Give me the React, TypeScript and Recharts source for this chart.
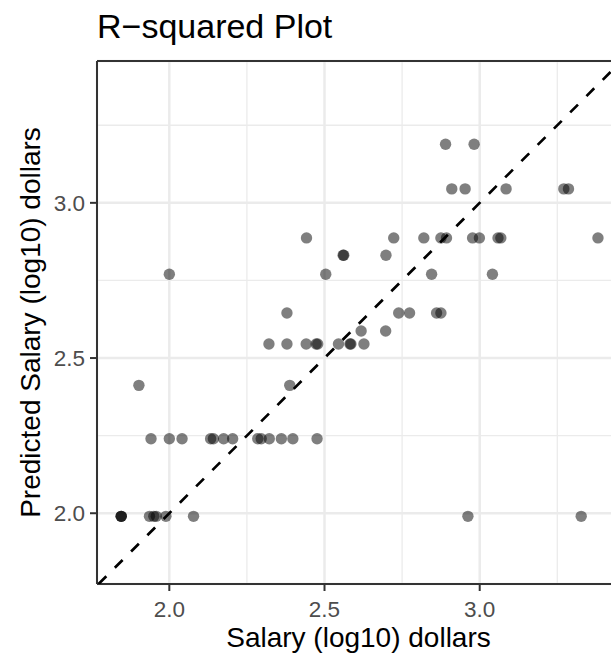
import { ScatterChart, Scatter, XAxis, YAxis, CartesianGrid, ReferenceLine } from "recharts";

const actualSalary = [
  2.89, 2.982,
  2.91, 2.953, 3.085, 3.271, 3.286,
  2.442, 2.723, 2.82, 2.875, 2.893, 2.977, 2.999, 3.059, 3.068, 3.381,
  2.56, 2.562, 2.698,
  2.0, 2.504, 2.845, 3.041,
  2.379, 2.739, 2.774, 2.861, 2.875,
  2.618, 2.697,
  2.321, 2.379, 2.441, 2.473, 2.478, 2.545, 2.582, 2.585, 2.627,
  1.902, 2.388,
  1.941, 2.0, 2.041, 2.133, 2.142, 2.175, 2.204, 2.285, 2.296, 2.322, 2.361, 2.398, 2.476,
  1.845, 1.845, 1.845, 1.936, 1.95, 1.958, 1.989, 2.078, 2.962, 3.327,
];
const predictedSalary = [
  3.189, 3.189,
  3.045, 3.045, 3.045, 3.045, 3.045,
  2.887, 2.887, 2.887, 2.887, 2.887, 2.887, 2.887, 2.887, 2.887, 2.887,
  2.831, 2.831, 2.831,
  2.77, 2.77, 2.77, 2.77,
  2.645, 2.645, 2.645, 2.645, 2.645,
  2.587, 2.587,
  2.545, 2.545, 2.545, 2.545, 2.545, 2.545, 2.545, 2.545, 2.545,
  2.412, 2.412,
  2.24, 2.24, 2.24, 2.24, 2.24, 2.24, 2.24, 2.24, 2.24, 2.24, 2.24, 2.24, 2.24,
  1.99, 1.99, 1.99, 1.99, 1.99, 1.99, 1.99, 1.99, 1.99, 1.99,
];

const majorTicks = [2.0, 2.5, 3.0];
const minorTicks = [2.25, 2.75, 3.25];
const xLimits: [number, number] = [1.767, 3.452];
const yLimits: [number, number] = [1.772, 3.457];

const points = actualSalary.map((x, i) => ({ x, y: predictedSalary[i] }));
// y = x reference
const identity = [
  { x: 1.772, y: 1.772 },
  { x: 3.452, y: 3.452 },
];

const FONT = '"Liberation Sans", Arial, Helvetica, sans-serif';
const tickStyle = { fill: "#4d4d4d", fontSize: 22.5, fontFamily: FONT };
const fmt = (v: number) => v.toFixed(1);

export default function App() {
  return (
    <div
      style={{
        position: "absolute",
        left: 0,
        top: 0,
        width: 611,
        height: 655,
        overflow: "hidden",
        background: "#fff",
      }}
    >
      <ScatterChart width={620} height={655} margin={{ top: 61, right: 0, bottom: 0, left: 0 }}>
        <CartesianGrid xAxisId="minor" yAxisId="minor" stroke="#ebebeb" strokeWidth={1.3} />
        <CartesianGrid stroke="#ebebeb" strokeWidth={2.5} />
        <XAxis xAxisId="minor" type="number" dataKey="x" domain={xLimits} ticks={minorTicks} allowDataOverflow hide />
        <YAxis yAxisId="minor" type="number" dataKey="y" domain={yLimits} ticks={minorTicks} allowDataOverflow hide />
        <XAxis
          type="number"
          dataKey="x"
          domain={xLimits}
          ticks={majorTicks}
          allowDataOverflow
          tickFormatter={fmt}
          height={71}
          tickSize={7}
          tickMargin={10}
          axisLine={{ stroke: "#333", strokeWidth: 2 }}
          tickLine={{ stroke: "#333", strokeWidth: 2 }}
          tick={tickStyle}
        />
        <YAxis
          type="number"
          dataKey="y"
          domain={yLimits}
          ticks={majorTicks}
          allowDataOverflow
          tickFormatter={fmt}
          width={97}
          tickSize={7}
          tickMargin={5}
          axisLine={{ stroke: "#333", strokeWidth: 2 }}
          tickLine={{ stroke: "#333", strokeWidth: 2 }}
          tick={tickStyle}
        />
        <ReferenceLine y={yLimits[1]} stroke="#333" strokeWidth={2} />
        <ReferenceLine x={xLimits[1]} stroke="#333" strokeWidth={2} />
        <Scatter
          data={points}
          isAnimationActive={false}
          shape={(p: any) => <circle cx={p.cx} cy={p.cy} r={5.7} fill="#000" fillOpacity={0.5} />}
        />
        <Scatter
          data={identity}
          isAnimationActive={false}
          line={{ stroke: "#000", strokeWidth: 2.7, strokeDasharray: "11 12" }}
          shape={() => <g />}
        />
      </ScatterChart>
      <svg
        width={611}
        height={655}
        style={{ position: "absolute", left: 0, top: 0, pointerEvents: "none" }}
        fontFamily={FONT}
      >
        <text x={97} y={38} fontSize={34} fill="#000">
          R−squared Plot
        </text>
        <text x={358.5} y={647} fontSize={28} fill="#000" textAnchor="middle">
          Salary (log10) dollars
        </text>
        <text x={40} y={322.5} fontSize={28} fill="#000" textAnchor="middle" transform="rotate(-90, 40, 322.5)">
          Predicted Salary (log10) dollars
        </text>
      </svg>
    </div>
  );
}
